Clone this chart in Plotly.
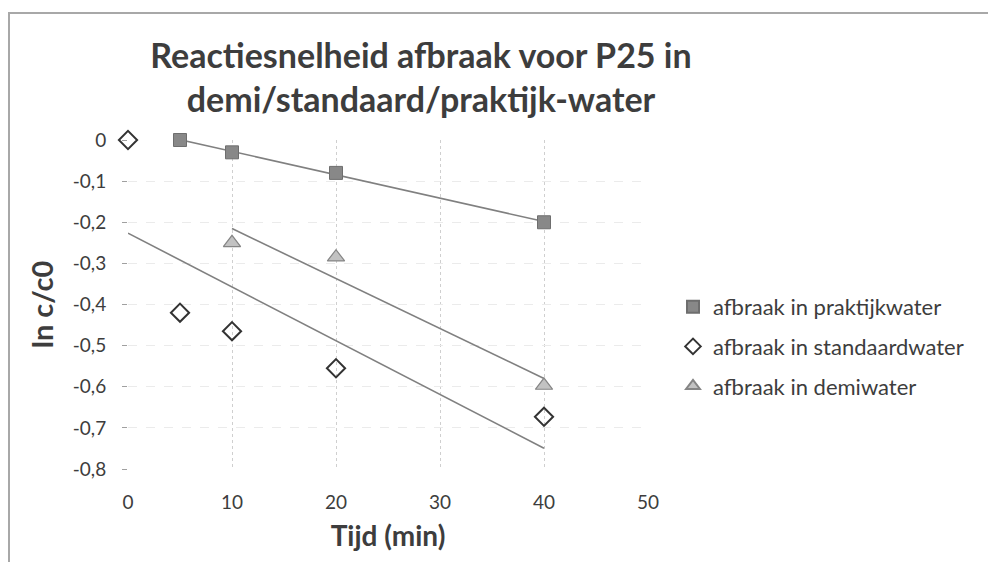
import numpy as np
import plotly.graph_objects as go

# Data
t_prak = [5, 10, 20, 40]
y_prak = [0.0, -0.03, -0.08, -0.2]
t_stan = [0, 5, 10, 20, 40]
y_stan = [0.0, -0.42, -0.465, -0.555, -0.673]
t_demi = [10, 20, 40]
y_demi = [-0.25, -0.285, -0.597]
names = ["afbraak in praktijkwater", "afbraak in standaardwater", "afbraak in demiwater"]
y_ticks = [0, -0.1, -0.2, -0.3, -0.4, -0.5, -0.6, -0.7, -0.8]
y_ticklabels = ["0", "-0,1", "-0,2", "-0,3", "-0,4", "-0,5", "-0,6", "-0,7", "-0,8"]
x_ticks = [0, 10, 20, 30, 40, 50]

FONT = "Lato"
TXT = "#3d3d3d"
fig = go.Figure()

def trend(t, y):
    k, b = np.polyfit(t, y, 1)
    xs = np.array([min(t), max(t)], dtype=float)
    return xs, k * xs + b

for t, y in [(t_prak, y_prak), (t_stan, y_stan), (t_demi, y_demi)]:
    xs, ys = trend(t, y)
    fig.add_trace(go.Scatter(x=xs, y=ys, mode="lines", line=dict(color="#808080", width=1.6),
                             showlegend=False, hoverinfo="skip"))

fig.add_trace(go.Scatter(x=t_prak, y=y_prak, mode="markers", name=names[0], cliponaxis=False,
                         legendgroup="a",
                         marker=dict(symbol="square", size=13, color="#888888",
                                     line=dict(color="#6e6e6e", width=1))))
fig.add_trace(go.Scatter(x=t_stan, y=y_stan, mode="markers", name=names[1], cliponaxis=False,
                         legendgroup="b",
                         marker=dict(symbol="diamond-open", size=14, color="#333333",
                                     line=dict(width=2))))
fig.add_trace(go.Scatter(x=t_demi, y=y_demi, mode="markers", name=names[2], cliponaxis=False,
                         legendgroup="c",
                         marker=dict(symbol="triangle-up", size=15, color="#c2c2c2",
                                     line=dict(color="#858585", width=1.2))))

# page body has an 8px margin; work in screen coordinates and shift
OFF = 8
W, H = 996 - OFF, 562 - OFF
L, R, T, B = 128 - OFF, 648 - OFF, 140 - OFF, 469 - OFF
def px(x):
    return (x - OFF - L) / (R - L)
def py(y):
    return (B - (y - OFF)) / (B - T)

fig.update_layout(
    width=W, height=H,
    margin=dict(l=L, r=W - R, t=T, b=H - B, pad=0),
    paper_bgcolor="white", plot_bgcolor="white",
    font=dict(family=FONT, color=TXT),
    title=dict(text="Reactiesnelheid afbraak voor P25 in<br>demi/standaard/praktijk-water",
               xref="container", yref="container",
               x=(421 - OFF) / W, xanchor="center", y=1 - (67.5 - OFF) / H, yanchor="middle",
               font=dict(family=FONT, size=34, color=TXT, weight="bold")),
    xaxis=dict(range=[0, 50], tickvals=x_ticks, showline=False, zeroline=False,
               showgrid=True, gridcolor="#cfcfcf", griddash="dot", gridwidth=1,
               tickfont=dict(size=19, color=TXT), ticks="", ticklabelstandoff=20,
               title=dict(text="Tijd (min)", font=dict(size=28, color=TXT, weight="bold"),
                          standoff=14)),
    yaxis=dict(range=[-0.8, 0], tickvals=y_ticks, ticktext=y_ticklabels, showline=False,
               zeroline=False, showgrid=True, gridcolor="#ebebeb", griddash="dash", gridwidth=1,
               ticks="outside", ticklen=5, tickcolor="#a0a0a0", ticklabelstandoff=12,
               tickfont=dict(size=19, color=TXT),
               title=dict(text="ln c/c0", font=dict(size=29, color=TXT, weight="bold"),
                          standoff=10)),
    legend=dict(x=px(673), y=py(286), xanchor="left", yanchor="top",
                font=dict(size=22, color=TXT), itemsizing="constant",
                tracegroupgap=8, bgcolor="rgba(0,0,0,0)"),
    showlegend=True,
)

# scanned frame border
fig.add_shape(type="line", xref="paper", yref="paper", x0=px(8), x1=px(996), y0=py(13), y1=py(13),
              line=dict(color="#a8a8a8", width=2))
fig.add_shape(type="line", xref="paper", yref="paper", x0=px(9), x1=px(9), y0=py(13), y1=py(562),
              line=dict(color="#a8a8a8", width=2))

fig.write_html("out.html")
